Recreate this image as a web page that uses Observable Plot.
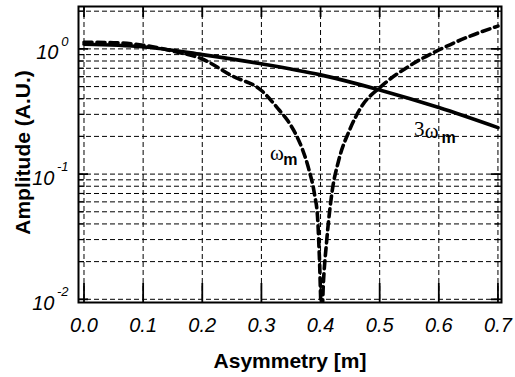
<!DOCTYPE html>
<html><head><meta charset="utf-8">
<script src="https://cdn.jsdelivr.net/npm/d3@7"></script>
<script src="https://cdn.jsdelivr.net/npm/@observablehq/plot@0.6"></script>
<style>body{margin:0;background:#fff;}</style>
</head><body><div id="chart"></div>
<script>
// ---- data ----
const xTicks = [0, 0.1, 0.2, 0.3, 0.4, 0.5, 0.6, 0.7];
const xTickLabels = ["0.0", "0.1", "0.2", "0.3", "0.4", "0.5", "0.6", "0.7"];
const yDecades = [0.01, 0.1, 1];
const yExponents = ["-2", "-1", "0"];

// 3ω_m (solid)
const x3w = [0, 0.1, 0.2, 0.3, 0.4, 0.5, 0.6, 0.7];
const y3w = [1.09, 1.04, 0.9, 0.76, 0.62, 0.47, 0.34, 0.235];

// ω_m (dashed)
const xw = [0, 0.05, 0.1, 0.15, 0.2, 0.25, 0.3, 0.33, 0.345, 0.36, 0.37, 0.38, 0.39, 0.395, 0.398, 0.402,
            0.405, 0.41, 0.42, 0.43, 0.45, 0.47, 0.5, 0.55, 0.6, 0.65, 0.7];
const yw = [1.13, 1.12, 1.07, 0.96, 0.83, 0.61, 0.465, 0.325, 0.265, 0.2, 0.155, 0.11, 0.068, 0.045, 0.022, 0.007,
            0.014, 0.028, 0.075, 0.125, 0.23, 0.35, 0.49, 0.73, 0.98, 1.25, 1.52];

const annText = ["ω", "m", "3", "ω", "m"];
const annX = [0.326, 0.349, 0.567, 0.588, 0.6165];
const annY = [0.147, 0.129, 0.228, 0.22, 0.193];
const annSerif = [true, false, true, true, false];

// ---- layout ----
const W = 515, H = 377, mL = 78, mR = 14, mT = 6, mB = 75;
const iw = W - mL - mR, ih = H - mT - mB;
const yTop = 2.18, yBottom = 0.00943;

const yGrid = [];
for (const d of yDecades) for (let k = 1; k <= 9; k++) {
  const v = +(d * k).toPrecision(3);
  if (v <= yTop) yGrid.push(v);
}
const yMinor = yGrid.filter(v => !yDecades.includes(v));

const solid = x3w.map((x, i) => ({x, y: y3w[i]}));
const dashed = xw.map((x, i) => ({x, y: yw[i]}));
const ann = annText.map((t, i) => ({t, x: annX[i], y: annY[i], serif: annSerif[i]}));
const decs = yDecades.map((y, i) => ({y, e: yExponents[i]}));
const decsLong = decs.filter(d => d.e.length > 1);
const decsShort = decs.filter(d => d.e.length <= 1);

const sans = "'Liberation Sans', Arial, Helvetica, sans-serif";
const serif = "'Liberation Serif', 'Times New Roman', serif";
const baseOpts = {y: "y", text: () => "10", frameAnchor: "left", dy: 4, lineAnchor: "middle",
  textAnchor: "end", fontSize: 20, fontStyle: "italic", fill: "#000"};

const chart = Plot.plot({
  width: W, height: H,
  marginLeft: mL, marginRight: mR, marginTop: mT, marginBottom: mB,
  style: {background: "#fff", fontFamily: sans},
  x: {domain: [-0.0093, 0.706], axis: null},
  y: {type: "log", domain: [yBottom, yTop], axis: null},
  marks: [
    Plot.ruleY(yGrid, {y: d => d, stroke: "#000", strokeWidth: 1, strokeDasharray: "5,3"}),
    Plot.ruleX(xTicks, {x: d => d, stroke: "#000", strokeWidth: 1, strokeDasharray: "5,3"}),
    // y ticks left/right
    Plot.tickY(yMinor, {y: d => d, insetRight: iw - 6, stroke: "#000", strokeWidth: 1.2}),
    Plot.tickY(yMinor, {y: d => d, insetLeft: iw - 6, stroke: "#000", strokeWidth: 1.2}),
    Plot.tickY(yDecades, {y: d => d, insetRight: iw - 10, stroke: "#000", strokeWidth: 1.8}),
    Plot.tickY(yDecades, {y: d => d, insetLeft: iw - 10, stroke: "#000", strokeWidth: 1.8}),
    // x ticks top/bottom
    Plot.tickX(xTicks, {x: d => d, insetBottom: ih - 11, stroke: "#000", strokeWidth: 1.8}),
    Plot.tickX(xTicks, {x: d => d, insetTop: ih - 19, stroke: "#000", strokeWidth: 1.8}),
    Plot.frame({stroke: "#000", strokeWidth: 2}),
    // curves
    Plot.line(solid, {x: "x", y: "y", stroke: "#000", strokeWidth: 3.6, curve: "monotone-x", clip: true}),
    Plot.line(dashed, {x: "x", y: "y", stroke: "#000", strokeWidth: 3.6, strokeDasharray: "8,5", curve: "monotone-x", clip: true}),
    // x tick labels
    Plot.text(xTicks, {x: d => d, text: (d, i) => xTickLabels[i], frameAnchor: "bottom", dy: 23,
      lineAnchor: "middle", textAnchor: "middle", fontSize: 20, fontStyle: "italic", fill: "#000"}),
    // y tick labels: base and exponent
    Plot.text(decsLong, {...baseOpts, dx: -24}),
    Plot.text(decsShort, {...baseOpts, dx: -20}),
    Plot.text(decs, {y: "y", text: "e", frameAnchor: "left", dx: -10, dy: -7,
      lineAnchor: "middle", textAnchor: "end", fontSize: 13, fontStyle: "italic", fill: "#000"}),
    // axis titles
    Plot.text(["Asymmetry [m]"], {text: d => d, frameAnchor: "bottom", dy: 59, lineAnchor: "middle",
      textAnchor: "middle", fontSize: 21, fontWeight: "bold", fill: "#000"}),
    Plot.text(["Amplitude (A.U.)"], {text: d => d, frameAnchor: "left", dx: -55, dy: -2, rotate: -90,
      lineAnchor: "middle", textAnchor: "middle", fontSize: 21, fontWeight: "bold", fill: "#000"}),
    // curve annotations
    Plot.text(ann.filter(d => d.serif), {x: "x", y: "y", text: "t", lineAnchor: "middle",
      fontFamily: serif, fontSize: 21, fill: "#000"}),
    Plot.text(ann.filter(d => !d.serif), {x: "x", y: "y", text: "t", lineAnchor: "middle",
      fontFamily: sans, fontSize: 16, fontWeight: "bold", fill: "#000"})
  ]
});
document.getElementById("chart").appendChild(chart);
</script>
</body></html>
